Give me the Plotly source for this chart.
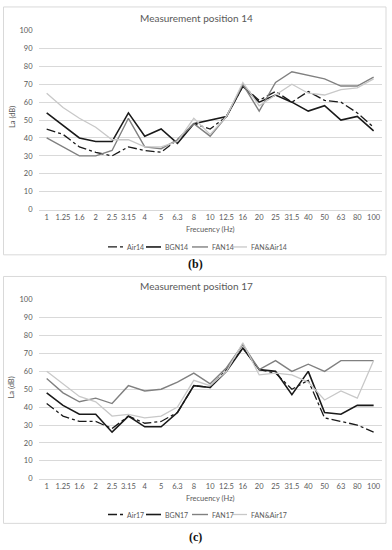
import plotly.graph_objects as go

W, H = 392, 550

freqs = ["1", "1.25", "1.6", "2", "2.5", "3.15", "4", "5", "6.3", "8", "10", "12.5",
         "16", "20", "25", "31.5", "40", "50", "63", "80", "100"]
y_ticks = [0, 10, 20, 30, 40, 50, 60, 70, 80, 90, 100]

air14 = [45, 42, 35, 32, 30, 35, 33, 32, 39, 48, 45, 52, 69, 61, 66, 60, 66, 61, 60, 54, 46]
bgn14 = [54, 47, 40, 38, 38, 54, 41, 45, 37, 48, 50, 52, 69, 60, 64, 60, 55, 58, 50, 52, 44]
fan14 = [40, 35, 30, 30, 33, 51, 35, 34, 39, 48, 41, 52, 70, 55, 71, 77, 75, 73, 69, 69, 74]
fanair14 = [65, 57, 51, 46, 39, 39, 35, 35, 38, 51, 42, 52, 71, 58, 64, 70, 65, 64, 67, 68, 73]

air17 = [42, 35, 32, 32, 28, 35, 31, 32, 37, 52, 51, 61, 73, 61, 59, 50, 55, 34, 32, 30, 26]
bgn17 = [48, 41, 36, 36, 26, 35, 29, 29, 37, 52, 51, 60, 73, 61, 60, 47, 60, 37, 36, 41, 41]
fan17 = [56, 48, 43, 45, 42, 52, 49, 50, 54, 59, 53, 62, 75, 61, 66, 60, 64, 60, 66, 66, 66]
fanair17 = [60, 53, 46, 43, 35, 36, 34, 35, 40, 55, 52, 60, 76, 58, 59, 58, 54, 44, 49, 45, 66]

names14 = ["Air14", "BGN14", "FAN14", "FAN&Air14"]
names17 = ["Air17", "BGN17", "FAN17", "FAN&Air17"]

styles = [
    dict(color="#1a1a1a", width=1.3, dash="dashdot"),
    dict(color="#1a1a1a", width=1.6, dash="solid"),
    dict(color="#808080", width=1.4, dash="solid"),
    dict(color="#c8c8c8", width=1.3, dash="solid"),
]

FONT = "Lato"
TXT = "#595959"
GRID = "#d9d9d9"


def px(x):
    return x / W


def py(y):
    return 1 - y / H


fig = go.Figure()

for series, names, xa, ya in [
    ([air14, bgn14, fan14, fanair14], names14, "x", "y"),
    ([air17, bgn17, fan17, fanair17], names17, "x2", "y2"),
]:
    for vals, nm, st in zip(series, names, styles):
        fig.add_trace(go.Scatter(x=freqs, y=vals, mode="lines", name=nm, line=st,
                                 xaxis=xa, yaxis=ya, showlegend=False))

xdom = [px(38.5), px(381.8)]
axis_common_x = dict(type="category", range=[-0.5, 20.5], showgrid=False, ticks="",
                     showline=True, linecolor=GRID, linewidth=1,
                     tickfont=dict(family=FONT, size=7.5, color=TXT), domain=xdom,
                     fixedrange=True)
axis_common_y = dict(range=[0, 100], tickvals=y_ticks, showgrid=True, gridcolor=GRID,
                     gridwidth=1, zeroline=False, ticks="", showline=False,
                     ticklabelstandoff=5,
                     tickfont=dict(family=FONT, size=7.5, color=TXT), fixedrange=True)

fig.update_layout(
    width=W, height=H, autosize=False,
    margin=dict(l=0, r=0, t=0, b=0),
    paper_bgcolor="white", plot_bgcolor="white",
    showlegend=False,
    xaxis=dict(**axis_common_x, anchor="y"),
    yaxis=dict(**axis_common_y, domain=[py(209), py(27)], anchor="x"),
    xaxis2=dict(**axis_common_x, anchor="y2"),
    yaxis2=dict(**axis_common_y, domain=[py(482.6), py(300.7)], anchor="x2"),
)

shapes = []
annotations = []

# chart boxes
for (top, bottom) in [(3, 255), (277, 528)]:
    shapes.append(dict(type="rect", xref="paper", yref="paper",
                       x0=px(3.5), x1=px(386), y0=py(bottom), y1=py(top),
                       line=dict(color=GRID, width=1), fillcolor="rgba(0,0,0,0)", layer="below"))


def add_text(x, y, text, size=8, color=TXT, xanchor="center", family=FONT, textangle=0):
    annotations.append(dict(x=px(x), y=py(y), xref="paper", yref="paper", text=text,
                            showarrow=False, xanchor=xanchor, yanchor="middle",
                            textangle=textangle,
                            font=dict(family=family, size=size, color=color)))


for (title, y_title, y_mid, y_xlab, y_leg, names, label, y_label) in [
    ("Measurement position 14", 14, 115, 229, 247, names14, "<b>(b)</b>", 264),
    ("Measurement position 17", 287, 390, 503, 519, names17, "<b>(c)</b>", 542),
]:
    add_text(196, y_title, title, size=10)
    add_text(12, y_mid, "La (dB)", size=7.5, textangle=-90)
    add_text(210, y_xlab, "Frecuency (Hz)", size=7.5)
    add_text(195, y_label, label, size=12, color="#111111", family="Liberation Serif")
    leg_x = [(108, 123), (146, 161), (192, 208), (233, 247)]
    for (x0, x1), nm, st in zip(leg_x, names, styles):
        shapes.append(dict(type="line", xref="paper", yref="paper",
                           x0=px(x0), x1=px(x1), y0=py(y_leg), y1=py(y_leg),
                           line=dict(color=st["color"], width=st["width"],
                                     dash="dashdot" if st["dash"] == "dashdot" else "solid")))
        add_text(x1 + 1.5, y_leg, nm, size=7, xanchor="left")

fig.update_layout(shapes=shapes, annotations=annotations)

fig.write_html("out.html",
               config={"displayModeBar": False, "staticPlot": True},
               post_script="document.body.style.margin='0';"
                           "document.body.style.overflow='hidden';")
